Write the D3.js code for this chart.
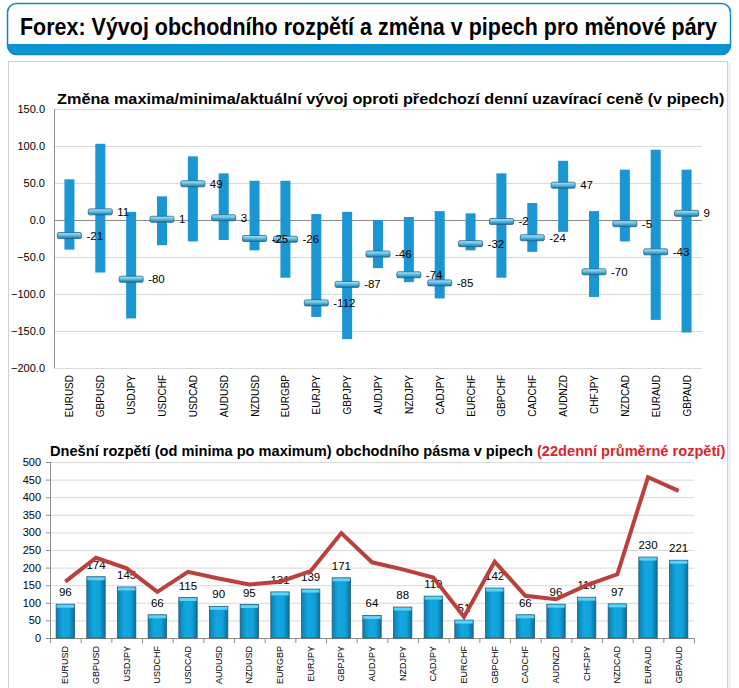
<!DOCTYPE html>
<html><head><meta charset="utf-8">
<script src="https://cdn.jsdelivr.net/npm/d3@7"></script>
<style>body{margin:0;background:#fff}svg{display:block}</style>
</head><body>
<svg id="c" width="739" height="688"></svg>
<script>
const pairs = ["EURUSD","GBPUSD","USDJPY","USDCHF","USDCAD","AUDUSD","NZDUSD","EURGBP","EURJPY","GBPJPY","AUDJPY","NZDJPY","CADJPY","EURCHF","GBPCHF","CADCHF","AUDNZD","CHFJPY","NZDCAD","EURAUD","GBPAUD"];
const highs = [55,103,11,32,86,63,53,53,8,11,0,4,12,9,63,23,80,12,68,95,68];
const lows = [-40,-71,-133,-34,-29,-27,-41,-78,-131,-161,-65,-84,-106,-41,-78,-43,-16,-104,-29,-135,-152];
const current = [-21,11,-80,1,49,3,-25,-26,-112,-87,-46,-74,-85,-32,-2,-24,47,-70,-5,-43,9];
const topTicks = [150,100,50,0,-50,-100,-150,-200];
const rangeToday = [96,174,145,66,115,90,95,131,139,171,64,88,119,51,142,66,96,116,97,230,221];
const avg22 = [160,228,198,131,188,169,152,160,190,298,215,195,172,60,217,120,110,150,181,457,418];
const bottomTicks = [0,50,100,150,200,250,300,350,400,450,500];

const svg = d3.select("#c");
const F = "'Liberation Sans', Arial, sans-serif";
const defs = svg.append("defs");

// fit a text horizontally into a given width by scaling
function fitText(sel, x, width) {
  const w = sel.node().getComputedTextLength();
  const s = width / w;
  sel.attr("x", 0).attr("transform", `translate(${x},0) scale(${s},1)`);
}

// title box
defs.append("clipPath").attr("id","tb").append("rect")
  .attr("x",7.5).attr("y",3.5).attr("width",723).attr("height",51).attr("rx",9);
svg.append("rect").attr("x",7.5).attr("y",3.5).attr("width",723).attr("height",51).attr("rx",9).attr("fill","#fff");
svg.append("rect").attr("clip-path","url(#tb)").attr("x",0).attr("y",44).attr("width",739).attr("height",12).attr("fill","#0a95d2");
svg.append("rect").attr("x",7.5).attr("y",3.5).attr("width",723).attr("height",51).attr("rx",9)
  .attr("fill","none").attr("stroke","#1586c4").attr("stroke-width",1.5);
const tt = svg.append("text").attr("y",35).attr("font-family",F).attr("font-weight","bold")
  .attr("font-size",23).attr("fill","#000")
  .text("Forex: Vývoj obchodního rozpětí a změna v pipech pro měnové páry");
fitText(tt, 20, 697);

// panel
svg.append("rect").attr("x",8.5).attr("y",61.5).attr("width",719).attr("height",640)
  .attr("fill","#fff").attr("stroke","#d0d0d0");
svg.append("line").attr("x1",729.5).attr("x2",729.5).attr("y1",63).attr("y2",688).attr("stroke","#ececec").attr("stroke-width",2);

// ---------- top chart ----------
const x1 = d3.scaleBand().domain(pairs).range([54,702]);
const y1 = d3.scaleLinear().domain([-200,150]).range([368,109]);
const g1 = svg.append("g");
const t1 = g1.append("text").attr("y",104).attr("font-family",F).attr("font-weight","bold")
  .attr("font-size",15.5)
  .text("Změna maxima/minima/aktuální vývoj oproti předchozí denní uzavírací ceně (v pipech)");
fitText(t1, 57, 668);
g1.selectAll(".gl").data(topTicks).join("line")
  .attr("x1",54).attr("x2",702).attr("y1",d=>y1(d)+0.5).attr("y2",d=>y1(d)+0.5)
  .attr("stroke",d=>d===0?"#8c8c8c":"#d9d9d9");
g1.append("line").attr("x1",54.5).attr("x2",54.5).attr("y1",y1(150)).attr("y2",y1(-200)).attr("stroke","#8c8c8c");
g1.selectAll(".yl").data(topTicks).join("text")
  .attr("x",45).attr("y",d=>y1(d)+4).attr("text-anchor","end").attr("font-family",F).attr("font-size",11)
  .text(d=>d3.format(".1f")(d));
g1.selectAll(".xl").data(pairs).join("text")
  .attr("transform",d=>`translate(${x1(d)+x1.bandwidth()/2+4},375) rotate(-90)`)
  .attr("text-anchor","end").attr("font-family",F).attr("font-size",10).text(d=>d);

const mg = defs.append("linearGradient").attr("id","mg").attr("x1",0).attr("x2",0).attr("y1",0).attr("y2",1);
mg.append("stop").attr("offset","0%").attr("stop-color","#b5e6f7");
mg.append("stop").attr("offset","45%").attr("stop-color","#5ec3ea");
mg.append("stop").attr("offset","100%").attr("stop-color","#1177aa");

const cx1 = p => x1(p)+x1.bandwidth()/2;
g1.selectAll(".rng").data(pairs).join("rect")
  .attr("x",p=>cx1(p)-5).attr("width",10)
  .attr("y",(p,i)=>y1(highs[i])).attr("height",(p,i)=>y1(lows[i])-y1(highs[i])).attr("fill","#1a96d2");
g1.selectAll(".mk").data(pairs).join("rect")
  .attr("x",p=>cx1(p)-12).attr("width",24).attr("y",(p,i)=>y1(current[i])-3).attr("height",6)
  .attr("rx",1.5).attr("fill","url(#mg)").attr("stroke","#2f5f80").attr("stroke-width",0.8);
g1.selectAll(".ml").data(pairs).join("text")
  .attr("x",p=>cx1(p)+17).attr("y",(p,i)=>y1(current[i])+4).attr("font-family",F).attr("font-size",11.5)
  .text((p,i)=>current[i]);

// ---------- bottom chart ----------
const x2 = d3.scaleBand().domain(pairs).range([50,694]).paddingInner(0.4).paddingOuter(0.2);
const y2 = d3.scaleLinear().domain([0,500]).range([638,462]);
const g2 = svg.append("g");
const t2 = g2.append("text").attr("y",456).attr("font-family",F).attr("font-weight","bold")
  .attr("font-size",15);
t2.append("tspan").text("Dnešní rozpětí (od minima po maximum) obchodního pásma v pipech ");
t2.append("tspan").attr("fill","#d9262c").text("(22denní průměrné rozpětí)");
fitText(t2, 50, 676);

g2.selectAll(".gl").data(bottomTicks.filter(d=>d>0)).join("line")
  .attr("x1",50).attr("x2",694).attr("y1",d=>y2(d)+0.5).attr("y2",d=>y2(d)+0.5).attr("stroke","#d9d9d9");
g2.append("line").attr("x1",50.5).attr("x2",50.5).attr("y1",y2(500)).attr("y2",y2(0)).attr("stroke","#8c8c8c");
g2.append("line").attr("x1",50).attr("x2",694).attr("y1",y2(0)+0.5).attr("y2",y2(0)+0.5).attr("stroke","#8c8c8c");
g2.selectAll(".tk").data(d3.range(pairs.length+1)).join("line")
  .attr("x1",d=>50+d*x2.step()+0.5).attr("x2",d=>50+d*x2.step()+0.5)
  .attr("y1",y2(0)).attr("y2",y2(0)+5).attr("stroke","#8c8c8c");
g2.selectAll(".yt").data(bottomTicks).join("line")
  .attr("x1",46).attr("x2",50).attr("y1",d=>y2(d)+0.5).attr("y2",d=>y2(d)+0.5).attr("stroke","#8c8c8c");
g2.selectAll(".yl").data(bottomTicks).join("text")
  .attr("x",41).attr("y",d=>y2(d)+4).attr("text-anchor","end").attr("font-family",F).attr("font-size",11)
  .text(d=>d);
g2.selectAll(".xl").data(pairs).join("text")
  .attr("transform",d=>`translate(${x2(d)+x2.bandwidth()/2+3},646) rotate(-90)`)
  .attr("text-anchor","end").attr("font-family",F).attr("font-size",9).text(d=>d);

const bg = defs.append("linearGradient").attr("id","bg").attr("x1",0).attr("x2",1).attr("y1",0).attr("y2",0);
bg.append("stop").attr("offset","0%").attr("stop-color","#0b7fb5");
bg.append("stop").attr("offset","35%").attr("stop-color","#12a6df");
bg.append("stop").attr("offset","70%").attr("stop-color","#13a2da");
bg.append("stop").attr("offset","100%").attr("stop-color","#0a6e9e");

g2.selectAll(".bar").data(rangeToday).join("rect")
  .attr("x",(d,i)=>x2(pairs[i])).attr("width",x2.bandwidth())
  .attr("y",d=>y2(d)).attr("height",d=>y2(0)-y2(d))
  .attr("fill","url(#bg)").attr("stroke","#1d4f6a").attr("stroke-width",0.7);
g2.selectAll(".cap").data(rangeToday).join("rect")
  .attr("x",(d,i)=>x2(pairs[i])+0.5).attr("width",x2.bandwidth()-1)
  .attr("y",d=>y2(d)+0.5).attr("height",3).attr("fill","#5fd3f3");
g2.selectAll(".bl").data(rangeToday).join("text")
  .attr("x",(d,i)=>x2(pairs[i])+x2.bandwidth()/2).attr("y",d=>y2(d)-8)
  .attr("text-anchor","middle").attr("font-family",F).attr("font-size",11.5).text(d=>d);

const line = d3.line().x((d,i)=>x2(pairs[i])+x2.bandwidth()/2).y(d=>y2(d));
g2.append("path").datum(avg22).attr("d",line).attr("fill","none")
  .attr("stroke","#b9403d").attr("stroke-width",4).attr("stroke-linejoin","miter");
</script>
</body></html>
